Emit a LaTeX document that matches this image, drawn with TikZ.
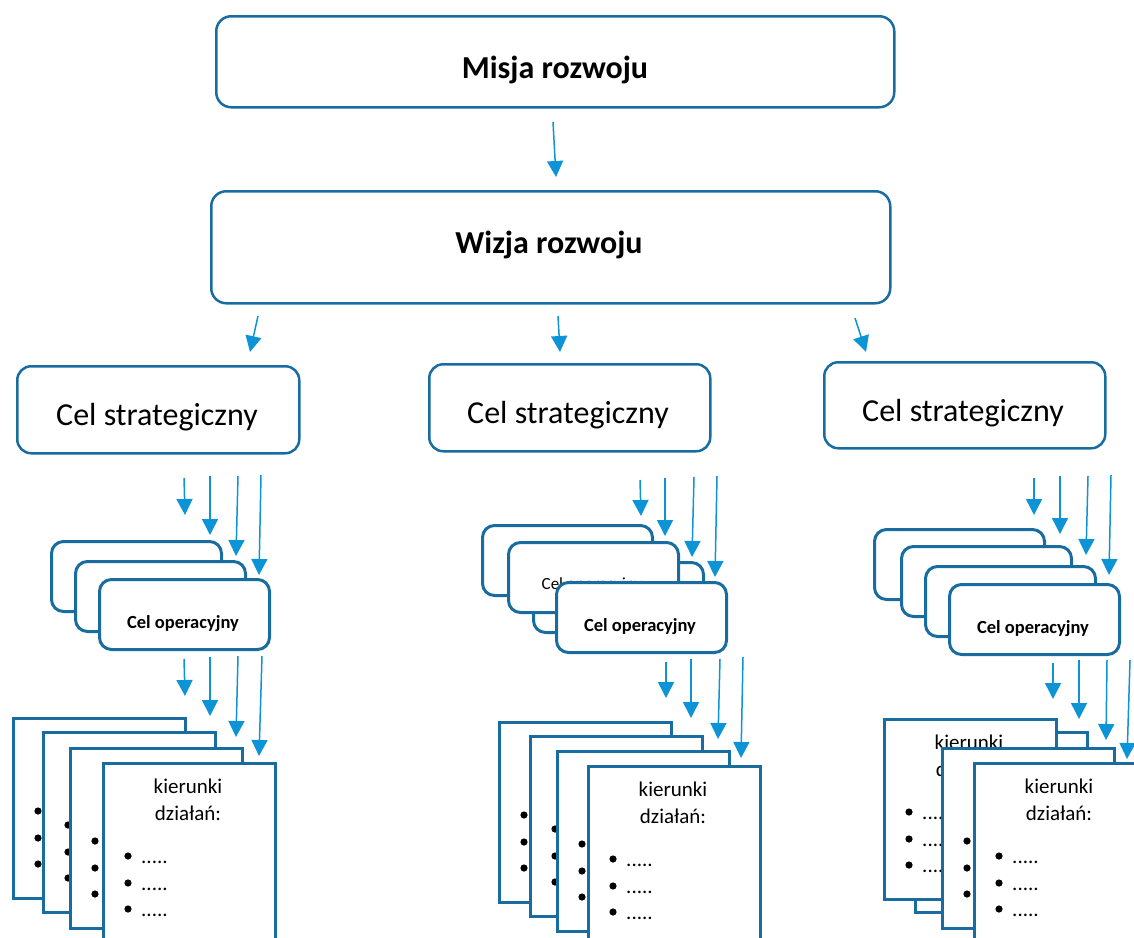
\documentclass[tikz,border=0pt]{standalone}
\usepackage{fontspec}
\setmainfont{Carlito}
\usetikzlibrary{arrows.meta}
\definecolor{boxblue}{RGB}{25,108,160}
\definecolor{arrblue}{RGB}{12,148,214}
\tikzset{
  bigbox/.style={draw=boxblue, line width=2.5pt, rounded corners=15pt, fill=white, anchor=north west, inner sep=0pt},
  stratbox/.style={draw=boxblue, line width=2.5pt, rounded corners=14pt, fill=white, anchor=north west, inner sep=0pt, minimum width=281pt, minimum height=87pt},
  opbox/.style={draw=boxblue, line width=3pt, rounded corners=12pt, fill=white, anchor=north west, inner sep=0pt, minimum width=170pt, minimum height=70pt},
  kbox/.style={draw=boxblue, line width=3pt, fill=white, anchor=north west, inner sep=0pt, minimum width=172pt, minimum height=180pt},
  bigtext/.style={font=\fontsize{32}{38}\selectfont\bfseries, anchor=base, inner sep=0pt},
  strattext/.style={font=\fontsize{32}{38}\selectfont, anchor=base, inner sep=0pt},
  optext/.style={font=\fontsize{18.5}{22}\selectfont\bfseries, anchor=base, inner sep=0pt},
  opsmall/.style={font=\fontsize{17}{20}\selectfont, anchor=base, inner sep=0pt},
  ktext/.style={font=\fontsize{21}{25}\selectfont, anchor=base, inner sep=0pt},
  arr/.style={draw=arrblue, line width=1.5pt, -{Triangle[width=16pt,length=16pt]}},
}
\newcommand\myarrow[5]{%
  \coordinate (#1s) at (#2,#3);
  \coordinate (#1e) at (#4,#5);
  \draw[arr] (#1s) -- (#1e);
}
% box with bullets only (its texts are hidden under the next sheet)
\newcommand\kbul[3]{%
  \node[kbox] (#1) at (#2,#3) {};
  \foreach \dy in {94,121,147}{
    \fill ([shift={(26,\dy)}]#1.north west) circle (3.6pt);
  }
}
% full sheet
\newcommand\kstack[3]{%
  \kbul{#1}{#2}{#3}
  \node[ktext] (#1t1) at ([shift={(86,31)}]#1.north west) {kierunki};
  \node[ktext] (#1t2) at ([shift={(86,58)}]#1.north west) {działań:};
  \foreach \i/\dy in {1/94,2/121,3/147}{
    \node[ktext, anchor=base west] (#1d\i) at ([shift={(39,\dy+7)}]#1.north west) {.....};
  }
}
\newcommand\opnode[4]{%
  \node[opbox] (#1) at (#2,#3) {};
  \node[optext] (#1t) at ([shift={(85,50)}]#1.north west) {#4};
}
\begin{document}
\begin{tikzpicture}[x=1pt,y=-1pt]
\useasboundingbox (0,0) rectangle (1134,937);

% top boxes
\node[bigbox, minimum width=678pt, minimum height=91pt] (misja) at (215,15) {};
\node[bigtext] (misjat) at ([shift={(340,63)}]misja.north west) {Misja rozwoju};
\node[bigbox, minimum width=679pt, minimum height=112pt] (wizja) at (210,190) {};
\node[bigtext] (wizjat) at ([shift={(339,63)}]wizja.north west) {Wizja rozwoju};

\myarrow{mw}{553}{122}{556}{177}

% strategic
\node[stratbox, minimum width=282pt] (s1) at (16,365) {};
\node[strattext] (s1t) at ([shift={(141,60)}]s1.north west) {Cel strategiczny};
\node[stratbox] (s2) at (428,363) {};
\node[strattext] (s2t) at ([shift={(140,60)}]s2.north west) {Cel strategiczny};
\node[stratbox, minimum height=86pt] (s3) at (823,361) {};
\node[strattext] (s3t) at ([shift={(140,60)}]s3.north west) {Cel strategiczny};

\myarrow{ws1}{258}{316}{250}{352}
\myarrow{ws2}{558}{316}{560}{352}
\myarrow{ws3}{855}{318}{866}{352}

% arrows strategic -> operational
\myarrow{a11}{184}{478}{185}{515}
\myarrow{a12}{210}{476}{210}{535}
\myarrow{a13}{238}{476}{236}{556}
\myarrow{a14}{261}{475}{259}{575}
\myarrow{a21}{640}{480}{641}{516}
\myarrow{a22}{665}{478}{665}{536}
\myarrow{a23}{694}{477}{692}{557}
\myarrow{a24}{717}{476}{715}{577}
\myarrow{a31}{1034}{478}{1034}{515}
\myarrow{a32}{1060}{476}{1060}{534}
\myarrow{a33}{1088}{476}{1086}{555}
\myarrow{a34}{1111}{475}{1109}{575}

% operational stacks
\node[opbox] (o11) at (50,540) {};
\node[opbox] (o12) at (74,560) {};
\opnode{o13}{98}{578}{Cel operacyjny}

\node[opbox] (o21) at (481,524) {};
\node[opbox] (o23) at (532,561) {};
\node[opbox] (o22) at (507,541) {};
\node[opsmall] (o22t) at ([shift={(85,48)}]o22.north west) {Cel operacyjny};
\opnode{o24}{555}{581}{Cel operacyjny}

\node[opbox] (o31) at (873,528) {};
\node[opbox] (o32) at (900,545) {};
\node[opbox] (o33) at (924,565) {};
\opnode{o34}{948}{583}{Cel operacyjny}

% arrows operational -> kierunki
\myarrow{b11}{184}{659}{185}{696}
\myarrow{b12}{210}{657}{210}{716}
\myarrow{b13}{238}{656}{236}{737}
\myarrow{b14}{262}{656}{259}{756}
\myarrow{b21}{666}{662}{666}{698}
\myarrow{b22}{691}{659}{691}{718}
\myarrow{b23}{720}{659}{718}{739}
\myarrow{b24}{743}{657}{741}{758}
\myarrow{b31}{1053}{663}{1053}{699}
\myarrow{b32}{1079}{660}{1079}{719}
\myarrow{b33}{1107}{660}{1106}{740}
\myarrow{b34}{1130}{660}{1127}{759}

% kierunki stacks
\kbul{k11}{12}{717}
\kbul{k12}{42}{731}
\kbul{k13}{69}{747}
\kstack{k14}{102}{762}

\kbul{k21}{498}{721}
\kbul{k22}{529}{735}
\kbul{k23}{556}{750}
\kstack{k24}{587}{765}

\kbul{k32}{914}{731}
\kstack{k31}{883}{718}
\kbul{k33}{941}{747}
\kstack{k34}{973}{762}
\end{tikzpicture}
\end{document}
